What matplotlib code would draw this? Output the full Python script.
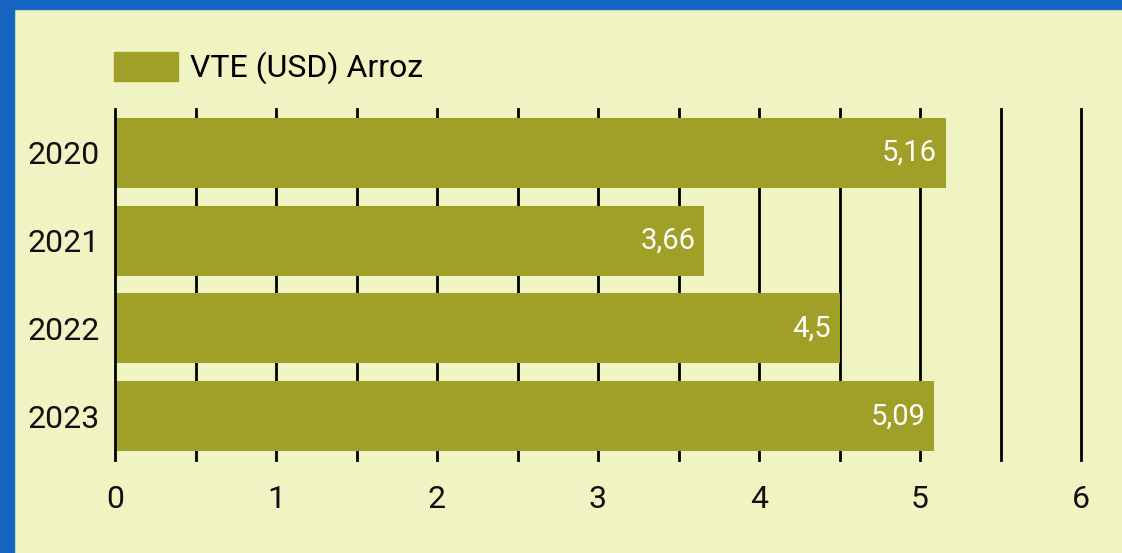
import matplotlib.pyplot as plt
from matplotlib.patches import Rectangle, Patch
import numpy as np

years = ["2020", "2021", "2022", "2023"]
values = [5.16, 3.66, 4.5, 5.09]
value_labels = ["5,16", "3,66", "4,5", "5,09"]
series_name = "VTE (USD) Arroz"

bg = "#F0F4C3"
bar_color = "#A09F27"
border = "#1565C0"

plt.rcParams["font.family"] = ["Roboto", "DejaVu Sans"]

W, H = 1122, 553
fig = plt.figure(figsize=(W / 100, H / 100), dpi=100, facecolor=bg)

# blue frame on left and top
fig.patches.append(Rectangle((0, 0), 14 / W, 1, transform=fig.transFigure, color=border, zorder=0))
fig.patches.append(Rectangle((0, 1 - 9 / H), 1, 9 / H, transform=fig.transFigure, color=border, zorder=0))

left, right, top, bottom = 115, 1081, 109, 460
ax = fig.add_axes([left / W, 1 - bottom / H, (right - left) / W, (bottom - top) / H])
ax.set_facecolor(bg)

y = np.arange(len(years))
bars = ax.barh(y, values, height=0.8, color=bar_color, zorder=2)
for b, lab in zip(bars, value_labels):
    ax.text(b.get_width() - 0.055, b.get_y() + b.get_height() / 2, lab,
            ha="right", va="center", color="white", fontsize=21, zorder=3)

ax.set_xlim(0, 6)
ax.set_ylim(len(years) - 0.5, -0.5)
ax.set_yticks(y)
ax.set_yticklabels(years)
ticks = np.arange(0, 6.01, 0.5)
ax.set_xticks(ticks)
ax.set_xticklabels([str(int(v)) if v == int(v) else "" for v in ticks])
ax.tick_params(axis="both", length=0, labelsize=23, colors="#111111")
ax.tick_params(axis="y", pad=11)
ax.tick_params(axis="x", pad=18)

for v in ticks[1:]:
    ax.axvline(v, color="black", lw=2, zorder=1, clip_on=False)
for s in ["top", "right", "bottom"]:
    ax.spines[s].set_visible(False)
ax.spines["left"].set_linewidth(2)
ax.spines["left"].set_zorder(4)

fig.legend(handles=[Patch(color=bar_color, label=series_name)],
           loc="center left", bbox_to_anchor=(114 / W, 1 - 68 / H),
           frameon=False, fontsize=23, handlelength=2.0, handleheight=1.05,
           handletextpad=0.38, borderpad=0, borderaxespad=0)

fig.savefig("out.png", dpi=100, facecolor=bg)
